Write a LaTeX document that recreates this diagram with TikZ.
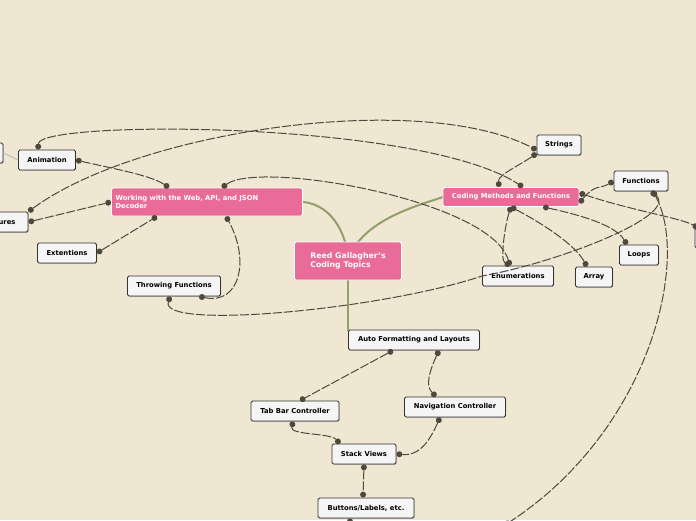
\documentclass[tikz,border=0pt]{standalone}
\usepackage{fontspec}
\setmainfont{DejaVu Sans}
\usetikzlibrary{arrows.meta,shadows}
\definecolor{paper}{HTML}{EFE7D1}
\definecolor{pinkbox}{HTML}{E96B98}
\definecolor{linkgray}{HTML}{4F483F}
\definecolor{branch}{HTML}{949E6A}
\begin{document}
\begin{tikzpicture}[x=1pt,y=-1pt]
          \tikzset{topic/.style = {draw=black!80,fill=black!4,rounded corners=1.5pt,line width=0.8pt,
              font=\fontsize{6.8}{8}\selectfont\bfseries,inner sep=2pt,minimum height=20pt,
              drop shadow={shadow xshift=0.6pt,shadow yshift=-0.8pt,opacity=0.5}}}
          \tikzset{main/.style = {draw=white,fill=pinkbox,text=white,rounded corners=1.5pt,line width=0.8pt,
              font=\fontsize{6.8}{8.5}\selectfont\bfseries,inner sep=4pt,align=left}}
          \tikzset{rel/.style = {linkgray,line width=1pt,dash pattern=on 9pt off 2pt,
              {Circle[length=6pt,line width=0pt]}-{Circle[length=6pt,line width=0pt]}}}
          \tikzset{twig/.style = {branch,line width=2pt}}
          \fill[paper] (0,0) rectangle (696,520);
          \useasboundingbox (0,0) rectangle (696,520);

          \node[topic,minimum width=44pt] (strings) at (559,145) {Strings};
          \node[topic,minimum width=54pt] (functions) at (641,181) {Functions};
          \node[topic,minimum width=30pt] (edge) at (710,238) {};
          \node[topic,minimum width=39pt] (loops) at (639,255) {Loops};
          \node[topic,minimum width=37pt] (array) at (594,277) {Array};
          \node[topic,minimum width=71pt] (enums) at (518,276) {Enumerations};
          \node[topic,minimum width=57pt] (anim) at (47,160) {Animation};
          \node[topic,minimum width=30pt] (left) at (-12,153) {};
          \node[topic,minimum width=58pt] (closures) at (-1,222) {Closures};
          \node[topic,minimum width=59pt] (ext) at (67,253) {Extentions};
          \node[topic,minimum width=93pt] (throw) at (174,286) {Throwing Functions};
          \node[topic,minimum width=131pt] (auto) at (414,340) {Auto Formatting and Layouts};
          \node[topic,minimum width=88pt] (tabbar) at (295,411) {Tab Bar Controller};
          \node[topic,minimum width=101pt] (nav) at (455,407) {Navigation Controller};
          \node[topic,minimum width=64pt] (stack) at (364,454) {Stack Views};
          \node[topic,minimum width=96pt] (buttons) at (366,508) {Buttons/Labels, etc.};

          \draw[black!25,line width=1pt] (left.east) -- (anim.west);
          \draw[twig] (303,202) .. controls (335,205) and (348,240) .. (348,261);
          \draw[twig] (443,197) .. controls (420,205) and (360,220) .. (348,261);
          \draw[twig] (348,261) -- (348,331);

          \node[main,font=\fontsize{7.8}{9.5}\selectfont\bfseries,minimum width=107pt,minimum height=38pt] (root) at (348,261) {Reed Gallagher's\\Coding Topics};
          \node[main,text width=183pt,minimum height=28pt] (web) at (207,202) {Working with the Web, API, and JSON\\Decoder};
          \node[main,minimum height=19pt,minimum width=136pt,align=center] (coding) at (511,197) {Coding Methods and Functions};

          \draw[rel] (anim.east) .. controls (110,168) and (150,175) .. ([xshift=-38pt]web.north);
          \draw[rel] ([xshift=-9pt]anim.north) .. controls (40,120) and (420,120) .. ([xshift=12pt]coding.north);
          \draw[rel] (closures.north east) .. controls (140,130) and (420,90) .. ([yshift=-5pt]strings.west);
          \draw[rel] (closures.east) -- (web.west);
          \draw[rel] (ext.east) -- ([xshift=-50pt]web.south);
          \draw[rel] ([xshift=25pt]throw.south) .. controls (240,305) and (250,260) .. ([xshift=19pt]web.south);
          \draw[rel] ([xshift=-4pt]throw.south) .. controls (160,330) and (380,310) .. (enums.west)
               .. controls (560,262) and (680,215) .. ([xshift=10pt]functions.south);
          \draw[rel] ([xshift=15pt]web.north) .. controls (260,160) and (490,200) .. ([xshift=-8pt]enums.north);
          \draw[rel] ([yshift=2pt]strings.south west) .. controls (520,165) and (498,175) .. ([xshift=-12pt]coding.north);
          \draw[rel] ([yshift=-6pt]coding.east) .. controls (595,184) and (600,189) .. (functions.west);
          \draw[rel] ([yshift=4pt]coding.east) .. controls (630,210) and (680,218) .. ([xshift=-12pt]edge.north);
          \draw[rel] (coding.south) .. controls (505,225) and (500,260) .. ([xshift=-8pt]enums.north);
          \draw[rel] (coding.south) .. controls (545,225) and (575,245) .. ([xshift=-7pt]array.north);
          \draw[rel] ([xshift=32pt]coding.south) .. controls (580,215) and (615,225) .. ([xshift=-12pt]loops.north);
          \draw[rel] ([xshift=12pt]functions.south) .. controls (690,260) and (650,430) .. (505,525);
          \draw[rel] (auto.south -| 393,0) -- ([xshift=5pt]tabbar.north);
          \draw[rel] ([xshift=25pt]auto.south) .. controls (430,370) and (425,385) .. ([xshift=-19pt]nav.north);
          \draw[rel] ([xshift=-2pt]tabbar.south) .. controls (290,435) and (330,433) .. ([xshift=-24pt]stack.north);
          \draw[rel] ([xshift=-15pt]nav.south) .. controls (430,440) and (420,456) .. (stack.east);
          \draw[rel] (stack.south) -- ([xshift=-3pt]buttons.north);
          \draw[rel] ([xshift=-16pt]buttons.south) -- ++(0,8);
        \end{tikzpicture}
\end{document}
